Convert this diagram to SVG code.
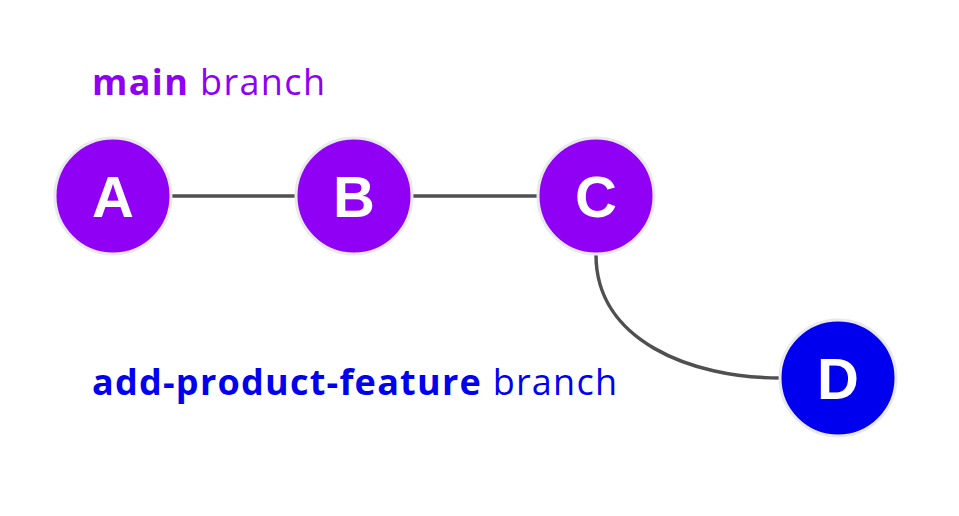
<svg xmlns="http://www.w3.org/2000/svg" width="959" height="516" viewBox="0 0 959 516">
<style>
.node circle{stroke:#e9e9ec;stroke-width:3}
.main circle{fill:#8f00f5}
.feat circle{fill:#0000ee}
.node text{fill:#fff;font-family:"Liberation Sans",Arial,sans-serif;font-weight:bold;font-size:58px;text-anchor:middle}
.conn{fill:none;stroke:#505050;stroke-width:3.5}
.lbl{font-family:"Open Sans","Liberation Sans",sans-serif;font-size:36px}
</style>
<rect width="959" height="516" fill="#fff"/>
<text class="lbl" x="92" y="95" fill="#8f00f5" textLength="233" lengthAdjust="spacing"><tspan font-weight="bold">main</tspan> branch</text>
<text class="lbl" x="92" y="395" fill="#0000ee" textLength="525" lengthAdjust="spacing"><tspan font-weight="bold">add-product-feature</tspan> branch</text>
<g id="connectors">
<path class="conn" d="M172,196 H296"/>
<path class="conn" d="M413,196 H537"/>
<path class="conn" d="M596,255 C596,340 690,378 780,378"/>
</g>
<g id="A" class="node main"><circle cx="113" cy="196" r="58"/><text x="113" y="217">A</text></g>
<g id="B" class="node main"><circle cx="354" cy="196" r="58"/><text x="354" y="217">B</text></g>
<g id="C" class="node main"><circle cx="596" cy="196" r="58"/><text x="596" y="217">C</text></g>
<g id="D" class="node feat"><circle cx="838" cy="378" r="58"/><text x="838" y="399">D</text></g>
</svg>
